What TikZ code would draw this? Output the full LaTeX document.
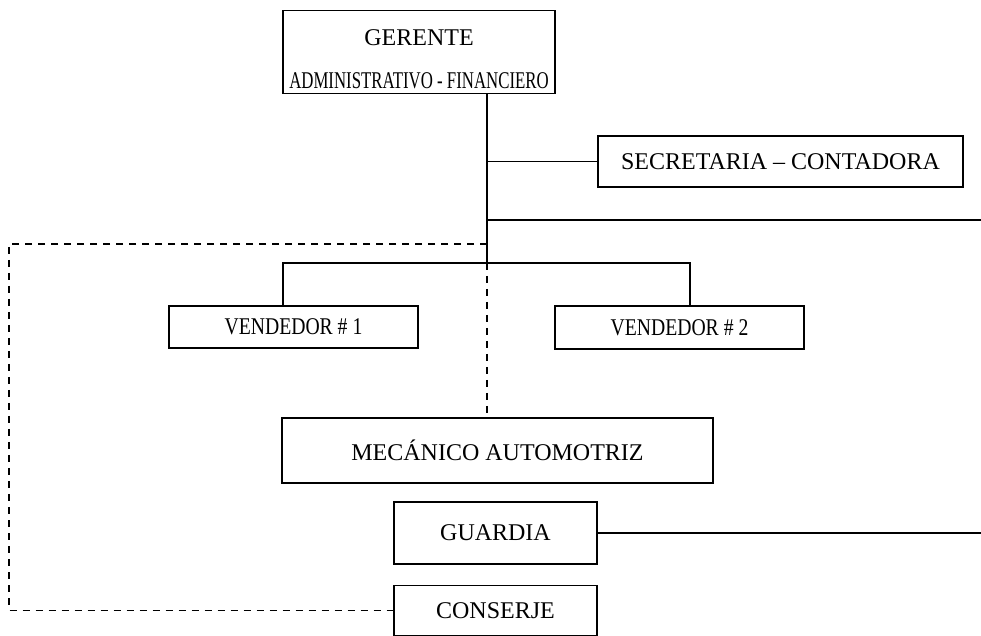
\documentclass[tikz,border=0pt]{standalone}
\usepackage{fontspec}
\setmainfont{Liberation Serif}
\usetikzlibrary{positioning, calc}

\begin{document}
\begin{tikzpicture}[
            x=0.5pt, y=-0.5pt,
            cargo/.style={rectangle, draw, line width=0.9pt, inner sep=0pt, align=center, font=\fontsize{12}{21.5}\selectfont},
            angosto/.style={cargo, font=\fontsize{12}{21.5}\selectfont\addfontfeature{FakeStretch=0.82}},
            enlace/.style={line width=0.9pt},
            punteado/.style={line width=0.7pt, dash pattern=on 3.5pt off 3pt}
        ]
            \useasboundingbox (0,0) rectangle (981,636);

            % --- cargos ---
            \node[cargo, minimum width=136pt, minimum height=41.5pt] (gerente) at (419,52)
              {\rule{0pt}{15pt}GERENTE\\{\addfontfeature{FakeStretch=0.7}ADMINISTRATIVO - FINANCIERO}};
            \node[cargo, minimum width=182.5pt, minimum height=25.5pt] (secretaria) at (780.5,161.5) {SECRETARIA -- CONTADORA};
            \node[angosto, minimum width=124.5pt, minimum height=21pt] (vendedor1) at (293.5,327) {VENDEDOR \# 1};
            \node[angosto, minimum width=124.5pt, minimum height=21.5pt] (vendedor2) at (679.5,327.5) {VENDEDOR \# 2};
            \node[cargo, minimum width=215.5pt, minimum height=32.5pt] (mecanico) at (497.5,450.5) {MECÁNICO AUTOMOTRIZ};
            \node[cargo, minimum width=101.5pt, minimum height=31pt] (guardia) at (495.5,533) {GUARDIA};
            \node[cargo, minimum width=101.5pt, minimum height=25pt] (conserje) at (495.5,610.5) {CONSERJE};

            % --- puntos de union ---
            \coordinate (eje) at (487,263);
            \coordinate (ramaLarga) at (487,220);
            \coordinate (finLarga) at (981,220);
            \coordinate (ramaPunt) at (487,244);
            \coordinate (esquina) at (9,244);
            \coordinate (bus1) at (283,263);
            \coordinate (bus2) at (690,263);
            \coordinate (finGuardia) at (981,533);

            % --- lineas de mando ---
            \draw[enlace] (gerente.south -| eje) -- (eje);
            \draw[enlace] (secretaria.west -| eje) -- (secretaria.west);
            \draw[enlace] (ramaLarga) -- (finLarga);
            \draw[enlace] (bus1 |- vendedor1.north) -- (bus1) -- (bus2) -- (bus2 |- vendedor2.north);
            \draw[enlace] (guardia.east) -- (finGuardia);

            % --- lineas de apoyo (punteadas) ---
            \draw[punteado] (eje) -- (eje |- mecanico.north);
            \draw[punteado] (ramaPunt) -- (esquina) -- (esquina |- conserje.west) -- (conserje.west);

        \end{tikzpicture}
\end{document}
